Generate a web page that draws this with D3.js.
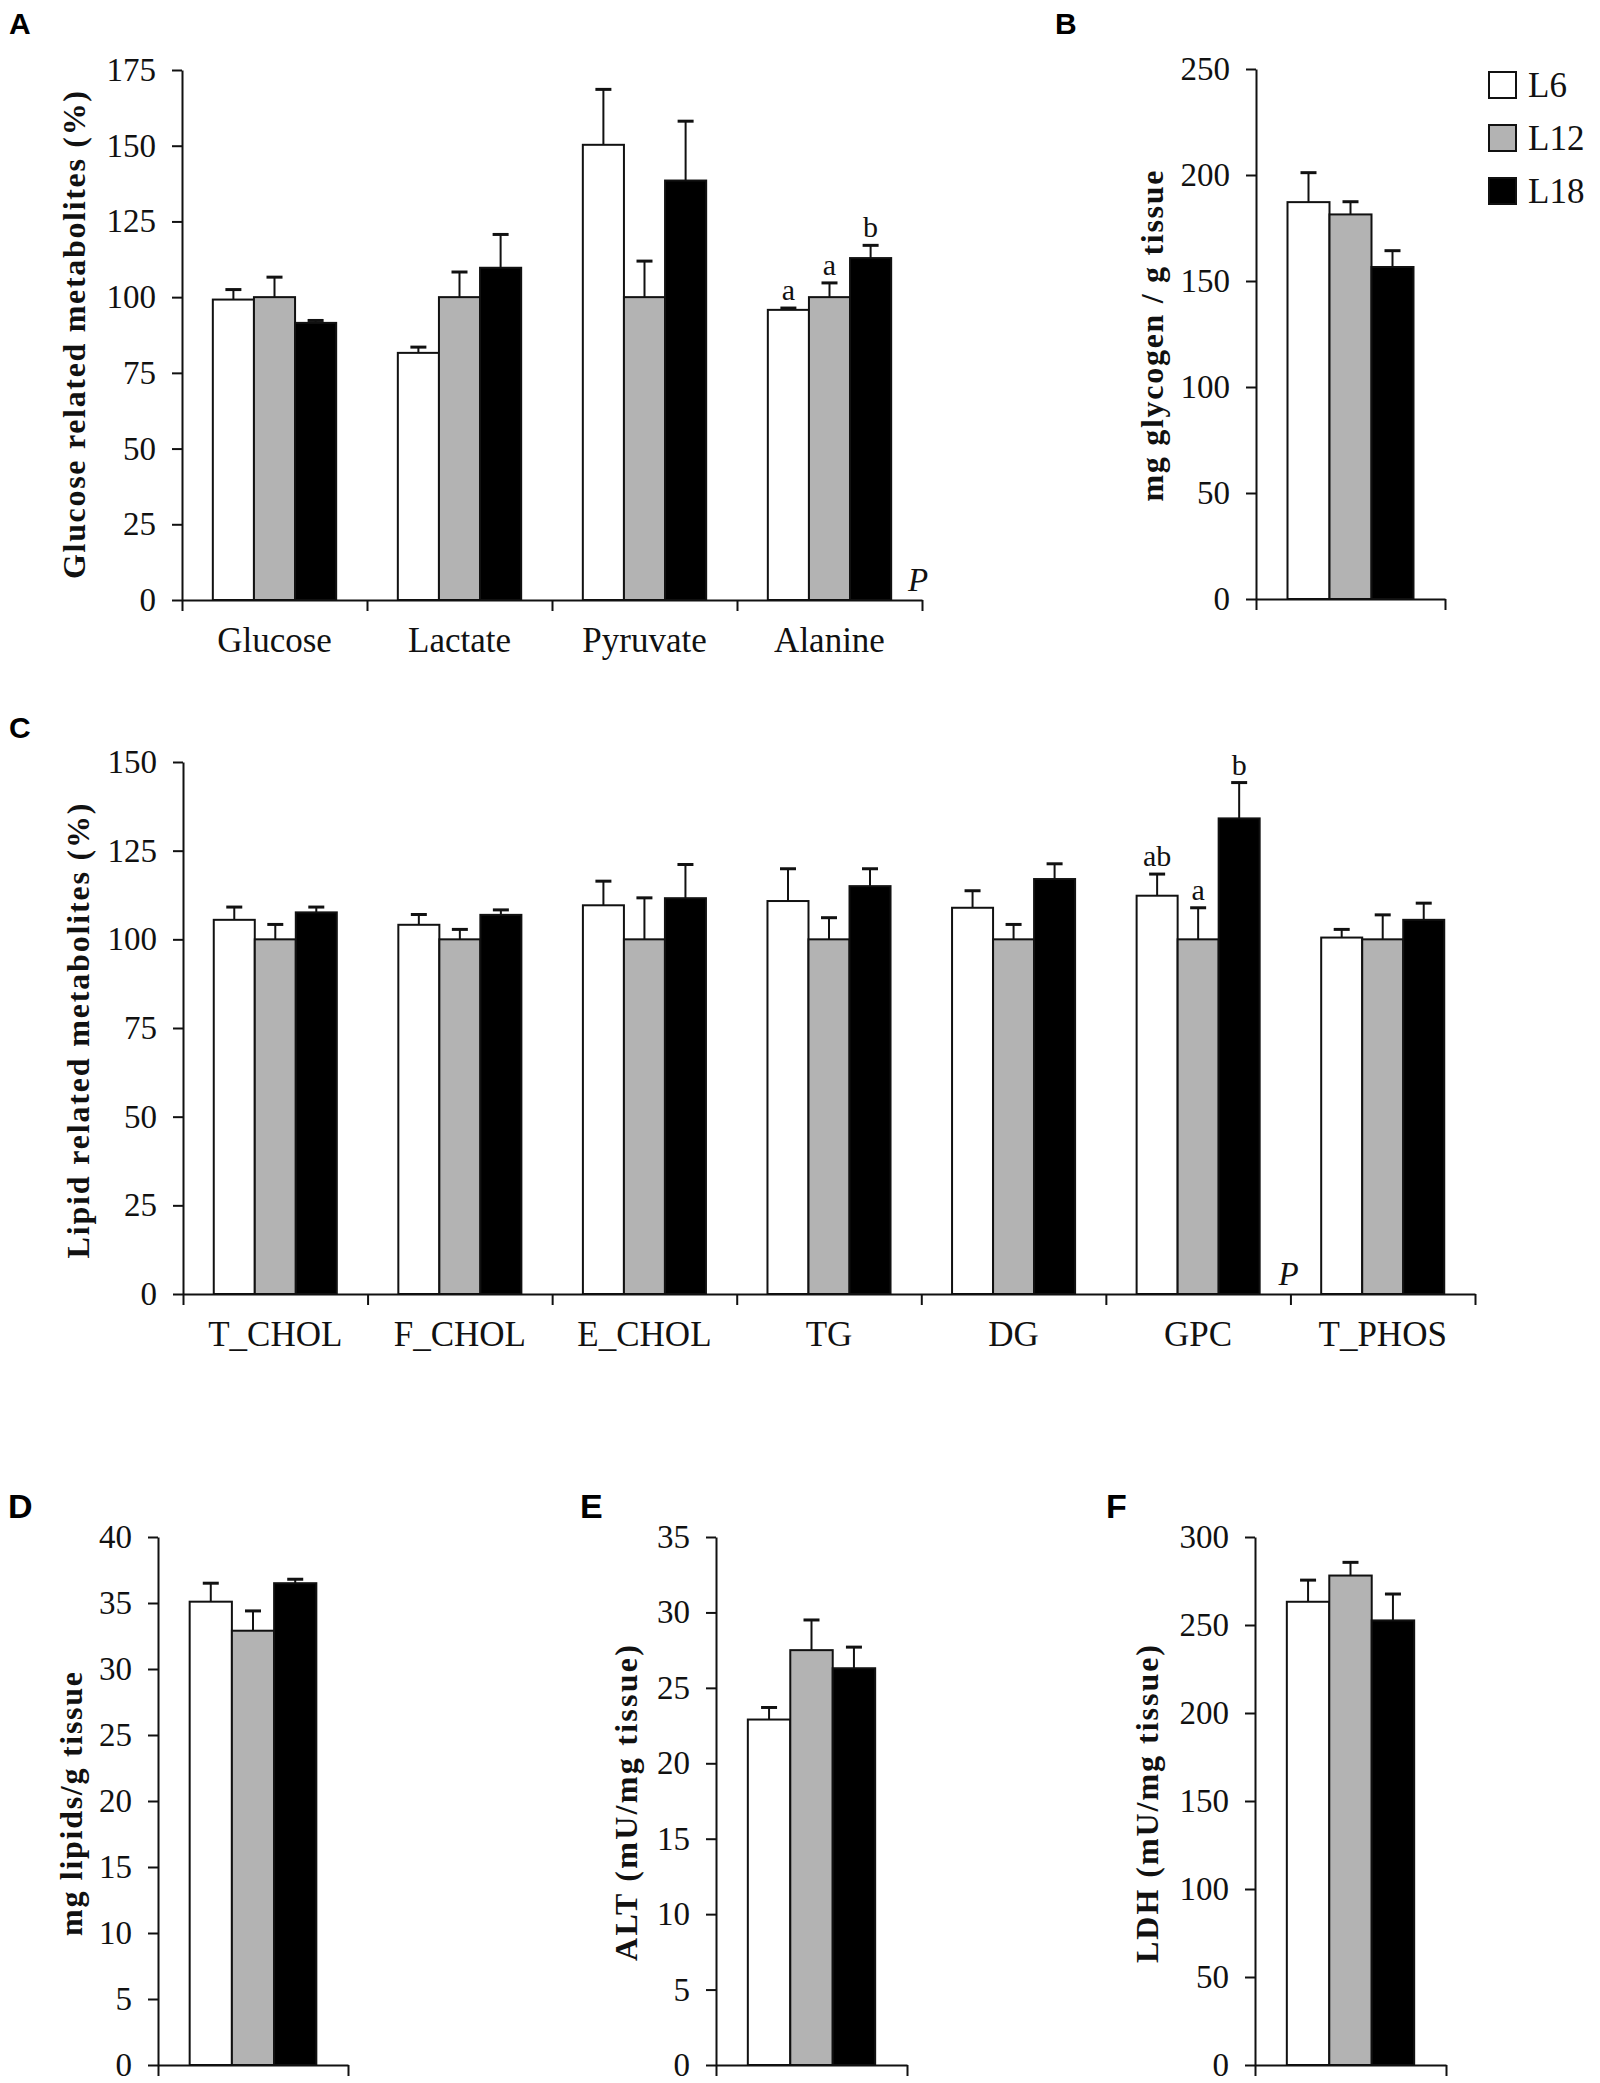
<!DOCTYPE html>
<html>
<head>
<meta charset="utf-8">
<script src="https://cdn.jsdelivr.net/npm/d3@7"></script>
<style>
  body { margin: 0; background: #fff; }
  svg { display: block; }
  .tick text { font-family: "Liberation Serif", "Times New Roman", serif; fill: #111; }
  .axis path, .axis line { stroke: #111; stroke-width: 2; }
</style>
</head>
<body>
<div id="chart"></div>
<script>
// groups / legend
let groups = ["L6", "L12", "L18"];

// A: glucose related metabolites (%)
let glucoseCats = ["Glucose", "Lactate", "Pyruvate", "Alanine"];
let glucoseL6 = [99.2, 81.6, 150.3, 95.8];
let glucoseL12 = [100, 100, 100, 100];
let glucoseL18 = [91.5, 109.7, 138.5, 112.9];
let glucoseL6Se = [3.3, 1.9, 18.3, 0.6];
let glucoseL12Se = [6.6, 8.3, 11.9, 4.7];
let glucoseL18Se = [0.8, 11.0, 19.6, 4.2];
let glucoseLetters = {cat: "Alanine", text: ["a", "a", "b"]};

// B: glycogen
let glycogenCats = [""];
let glycogenL6 = [187.2], glycogenL12 = [181.4], glycogenL18 = [156.6];
let glycogenL6Se = [13.9], glycogenL12Se = [6.0], glycogenL18Se = [7.7];

// C: lipid related metabolites (%)
let lipidCats = ["T_CHOL", "F_CHOL", "E_CHOL", "TG", "DG", "GPC", "T_PHOS"];
let lipidL6 = [105.5, 104.1, 109.6, 110.8, 108.9, 112.3, 100.5];
let lipidL12 = [100, 100, 100, 100, 100, 100, 100];
let lipidL18 = [107.6, 106.9, 111.6, 115.0, 117.0, 134.1, 105.5];
let lipidL6Se = [3.6, 2.9, 6.8, 9.1, 4.8, 6.1, 2.3];
let lipidL12Se = [4.2, 2.8, 11.7, 6.1, 4.2, 8.9, 6.9];
let lipidL18Se = [1.5, 1.4, 9.5, 4.9, 4.3, 10.1, 4.7];
let lipidLetters = {cat: "GPC", text: ["ab", "a", "b"]};

// D, E, F
let lipidsL6 = [35.1], lipidsL12 = [32.9], lipidsL18 = [36.5];
let lipidsL6Se = [1.4], lipidsL12Se = [1.5], lipidsL18Se = [0.3];
let altL6 = [22.9], altL12 = [27.5], altL18 = [26.3];
let altL6Se = [0.8], altL12Se = [2.0], altL18Se = [1.4];
let ldhL6 = [263.2], ldhL12 = [278.1], ldhL18 = [252.6];
let ldhL6Se = [12.3], ldhL12Se = [7.5], ldhL18Se = [15.0];

let fills = {"L6": "#ffffff", "L12": "#b3b3b3", "L18": "#000000"};
let serif = "'Liberation Serif', 'Times New Roman', serif";
let sans = "'Liberation Sans', Arial, sans-serif";

let svg = d3.select("#chart")
    .append("svg")
    .attr("width", 1600)
    .attr("height", 2083);

function drawPanel(p) {
    let x = d3.scaleBand().domain(p.cats).range([p.left, p.right]);
    let bw = x.bandwidth();
    let xs = d3.scaleBand().domain(groups).range([bw / 6, bw * 5 / 6]);
    let y = d3.scaleLinear().domain([0, p.yMax]).range([p.bottom, p.top]);

    let rows = [];
    p.cats.forEach((c, ci) => {
        groups.forEach((g, gi) => {
            rows.push({cat: c, group: g, gi: gi, v: p.means[gi][ci], e: p.errs[gi][ci]});
        });
    });

    let g = svg.append("g");

    // error bars (drawn first, bar outline sits on top of the stem)
    let eb = g.selectAll(".err")
        .data(rows)
        .enter()
        .append("g")
        .attr("class", "err");
    eb.append("line")
        .attr("x1", d => x(d.cat) + xs(d.group) + xs.bandwidth() / 2)
        .attr("x2", d => x(d.cat) + xs(d.group) + xs.bandwidth() / 2)
        .attr("y1", d => y(d.v))
        .attr("y2", d => y(d.v + d.e))
        .attr("stroke", "#111")
        .attr("stroke-width", 2);
    eb.append("line")
        .attr("x1", d => x(d.cat) + xs(d.group) + xs.bandwidth() / 2 - 8)
        .attr("x2", d => x(d.cat) + xs(d.group) + xs.bandwidth() / 2 + 8)
        .attr("y1", d => y(d.v + d.e))
        .attr("y2", d => y(d.v + d.e))
        .attr("stroke", "#111")
        .attr("stroke-width", 3);

    g.selectAll("rect")
        .data(rows)
        .enter()
        .append("rect")
        .attr("x", d => x(d.cat) + xs(d.group))
        .attr("y", d => y(d.v))
        .attr("width", xs.bandwidth())
        .attr("height", d => y(0) - y(d.v))
        .attr("fill", d => fills[d.group])
        .attr("stroke", "#111")
        .attr("stroke-width", 2);

    // y axis
    let yAxis = d3.axisLeft(y)
        .tickValues(d3.range(0, p.yMax + p.yStep / 2, p.yStep))
        .tickSize(10)
        .tickSizeOuter(0)
        .tickPadding(16);
    g.append("g")
        .attr("class", "axis")
        .attr("transform", "translate(" + p.left + ",0)")
        .call(yAxis)
        .selectAll("text")
        .style("font-size", "33px");

    // x axis with ticks on the group boundaries
    let xb = d3.scaleLinear().domain([0, p.cats.length]).range([p.left, p.right]);
    g.append("g")
        .attr("class", "axis")
        .attr("transform", "translate(0," + p.bottom + ")")
        .call(d3.axisBottom(xb)
            .tickValues(d3.range(p.cats.length + 1))
            .tickFormat("")
            .tickSize(11)
            .tickSizeOuter(0));

    // category labels
    if (p.cats[0] !== "") {
        let lab = g.append("g")
            .attr("transform", "translate(0," + p.bottom + ")")
            .call(d3.axisBottom(x).tickSize(0));
        lab.select(".domain").remove();
        lab.selectAll("text")
            .attr("y", 52)
            .attr("dy", null)
            .style("font-size", "35px");
    }

    // y title
    g.append("text")
        .attr("transform", "translate(" + p.titleX + "," + p.titleY + ") rotate(-90)")
        .attr("text-anchor", "middle")
        .attr("dy", "0.35em")
        .attr("textLength", p.titleLen)
        .style("font-family", serif)
        .style("font-weight", "bold")
        .style("font-size", "32px")
        .attr("fill", "#111")
        .text(p.title);

    // significance letters
    if (p.letters) {
        let c = p.letters.cat;
        let ci = p.cats.indexOf(c);
        groups.forEach((gr, gi) => {
            g.append("text")
                .attr("x", x(c) + xs(gr) + xs.bandwidth() / 2)
                .attr("y", y(p.means[gi][ci] + p.errs[gi][ci]) - 8)
                .attr("text-anchor", "middle")
                .style("font-family", serif)
                .style("font-size", "30px")
                .attr("fill", "#111")
                .text(p.letters.text[gi]);
        });
    }

    if (p.pAt !== undefined) {
        g.append("text")
            .attr("x", p.pAt === "end" ? p.right - 14 : x(p.pAt) - 12)
            .attr("y", p.bottom - 9)
            .style("font-family", serif)
            .style("font-style", "italic")
            .style("font-size", "33px")
            .attr("fill", "#111")
            .text("P");
    }

    g.append("text")
        .attr("x", p.letterX)
        .attr("y", p.letterY)
        .style("font-family", sans)
        .style("font-weight", "bold")
        .style("font-size", p.letterSize + "px")
        .attr("fill", "#000")
        .text(p.letter);
}

drawPanel({
    cats: glucoseCats,
    means: [glucoseL6, glucoseL12, glucoseL18],
    errs: [glucoseL6Se, glucoseL12Se, glucoseL18Se],
    left: 182, right: 922, top: 70, bottom: 600, yMax: 175, yStep: 25,
    title: "Glucose related metabolites (%)", titleX: 74, titleY: 335, titleLen: 488,
    letters: glucoseLetters, pAt: "end",
    letter: "A", letterX: 9, letterY: 34, letterSize: 30
});

drawPanel({
    cats: glycogenCats,
    means: [glycogenL6, glycogenL12, glycogenL18],
    errs: [glycogenL6Se, glycogenL12Se, glycogenL18Se],
    left: 1256, right: 1445, top: 69, bottom: 599, yMax: 250, yStep: 50,
    title: "mg glycogen / g tissue", titleX: 1152, titleY: 336, titleLen: 331,
    letter: "B", letterX: 1055, letterY: 34, letterSize: 30
});

drawPanel({
    cats: lipidCats,
    means: [lipidL6, lipidL12, lipidL18],
    errs: [lipidL6Se, lipidL12Se, lipidL18Se],
    left: 183, right: 1475, top: 762, bottom: 1294, yMax: 150, yStep: 25,
    title: "Lipid related metabolites (%)", titleX: 78, titleY: 1031, titleLen: 455,
    letters: lipidLetters, pAt: "T_PHOS",
    letter: "C", letterX: 9, letterY: 738, letterSize: 30
});

drawPanel({
    cats: glycogenCats,
    means: [lipidsL6, lipidsL12, lipidsL18],
    errs: [lipidsL6Se, lipidsL12Se, lipidsL18Se],
    left: 158, right: 348, top: 1537, bottom: 2065, yMax: 40, yStep: 5,
    title: "mg lipids/g tissue", titleX: 71, titleY: 1804, titleLen: 264,
    letter: "D", letterX: 8, letterY: 1518, letterSize: 34
});

drawPanel({
    cats: glycogenCats,
    means: [altL6, altL12, altL18],
    errs: [altL6Se, altL12Se, altL18Se],
    left: 716, right: 907, top: 1537, bottom: 2065, yMax: 35, yStep: 5,
    title: "ALT (mU/mg tissue)", titleX: 626, titleY: 1803, titleLen: 316,
    letter: "E", letterX: 580, letterY: 1518, letterSize: 34
});

drawPanel({
    cats: glycogenCats,
    means: [ldhL6, ldhL12, ldhL18],
    errs: [ldhL6Se, ldhL12Se, ldhL18Se],
    left: 1255, right: 1446, top: 1537, bottom: 2065, yMax: 300, yStep: 50,
    title: "LDH (mU/mg tissue)", titleX: 1147, titleY: 1804, titleLen: 318,
    letter: "F", letterX: 1106, letterY: 1518, letterSize: 34
});

// legend (panel B)
let legend = svg.append("g")
    .selectAll("g")
    .data(groups)
    .enter()
    .append("g")
    .attr("transform", (d, i) => "translate(1489," + (72 + i * 53) + ")");
legend.append("rect")
    .attr("width", 27)
    .attr("height", 26)
    .attr("fill", d => fills[d])
    .attr("stroke", "#111")
    .attr("stroke-width", 2);
legend.append("text")
    .attr("x", 39)
    .attr("y", 25)
    .style("font-family", serif)
    .style("font-size", "35px")
    .attr("fill", "#111")
    .text(d => d);
</script>
</body>
</html>
